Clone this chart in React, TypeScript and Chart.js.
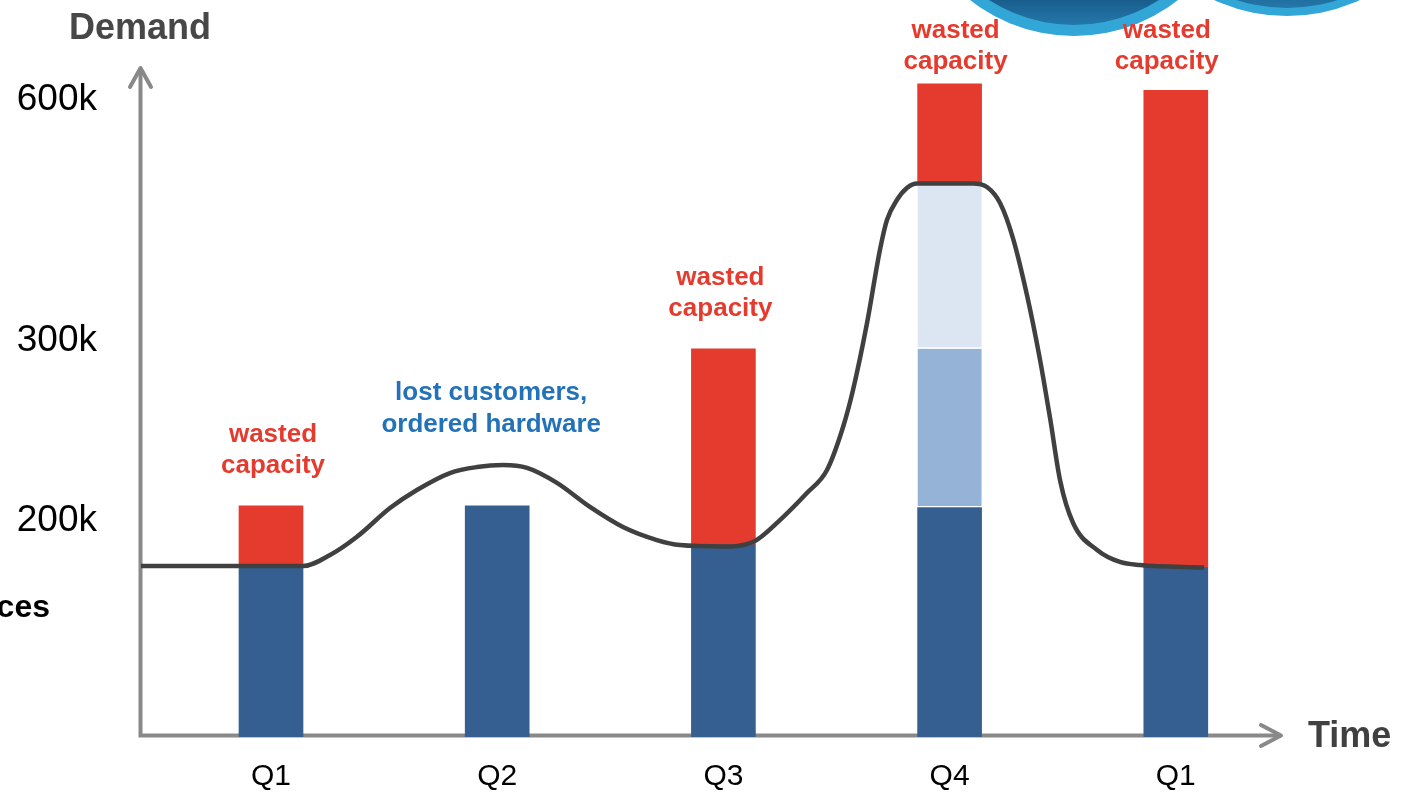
import { useEffect, useRef } from 'react';
import { Chart, registerables, LinearScale } from 'chart.js';

// ---------------- data ----------------
const quarterLabels = ['Q1', 'Q2', 'Q3', 'Q4', 'Q1'];
const quarterPositions = [1, 2, 3, 4, 5];
const servedDemand = [156000, 207000, 176000, 206000, 155000];
const burstTier1 = [null, null, null, 88000, null];
const burstTier2 = [null, null, null, 197000, null];
const provisionedCapacity = [207000, 207000, 294000, 617000, 609000];

const demandX = [
  0.425, 1.141, 1.261, 1.38, 1.526, 1.645, 1.791, 1.911, 2.026, 2.132, 2.264, 2.41,
  2.556, 2.706, 2.808, 2.998, 3.131, 3.25, 3.369, 3.458, 3.529, 3.573, 3.635, 3.692,
  3.723, 3.767, 3.811, 3.856, 4.103, 4.165, 4.223, 4.28, 4.342, 4.4, 4.444, 4.489,
  4.546, 4.652, 4.753, 4.842, 5.125,
];
const demandY = [
  156500, 156500, 166600, 183300, 205800, 215800, 225200, 228500, 229600, 228000, 219700, 206400,
  192200, 180300, 175700, 174400, 178500, 198600, 214100, 226900, 250700, 271200, 318700, 409800,
  447200, 472100, 487100, 492700, 492700, 488300, 468400, 424700, 353600, 287800, 255700, 220800,
  195900, 171200, 160200, 157400, 155100,
];

const yTickValues = [200000, 300000, 600000];
const yTickLabels = ['200k', '300k', '600k'];

// segmented (broken) value axis definition
const yBreakValues = [0, 200000, 300000, 600000, 638000];
const yBreakFractions = [0, 0.3261, 0.5955, 0.9545, 1];

const wastedCapacity = provisionedCapacity.map((cap, i) => {
  const used = servedDemand[i] + (burstTier1[i] || 0) + (burstTier2[i] || 0);
  const w = cap - used;
  return w > 0 ? w : null;
});

// ---------------- styling ----------------
const FONT = '"Liberation Sans", Arial, Helvetica, sans-serif';
const COLOR_SERVED = '#365F91';
const COLOR_BURST1 = '#95B3D7';
const COLOR_BURST2 = '#DCE6F2';
const COLOR_WASTE = '#E53B2F';
const COLOR_LINE = '#404040';
const COLOR_AXIS = '#898989';
const COLOR_LOST = '#2372B9';

const annotations = [
  { index: 0, dx: 2, dy: [-64, -33], lines: ['wasted', 'capacity'], color: COLOR_WASTE },
  { index: 1, dx: -6, dy: [-106, -74], lines: ['lost customers,', 'ordered hardware'], color: COLOR_LOST },
  { index: 2, dx: -3, dy: [-64, -33], lines: ['wasted', 'capacity'], color: COLOR_WASTE },
  { index: 3, dx: 6, dy: [-46, -15], lines: ['wasted', 'capacity'], color: COLOR_WASTE },
  { index: 4, dx: -9, dy: [-52, -21], lines: ['wasted', 'capacity'], color: COLOR_WASTE },
];

const decorRings = [
  { cx: 1074, cy: -132, r: 168, band: 11 },
  { cx: 1287, cy: -158, r: 174, band: 8 },
];

function valueToFraction(v: number): number {
  const n = yBreakValues.length;
  if (v <= yBreakValues[0]) return yBreakFractions[0] + (v - yBreakValues[0]) * (yBreakFractions[1] - yBreakFractions[0]) / (yBreakValues[1] - yBreakValues[0]);
  for (let i = 1; i < n; i++) {
    if (v <= yBreakValues[i] || i === n - 1) {
      const t = (v - yBreakValues[i - 1]) / (yBreakValues[i] - yBreakValues[i - 1]);
      return yBreakFractions[i - 1] + t * (yBreakFractions[i] - yBreakFractions[i - 1]);
    }
  }
  return 1;
}
function fractionToValue(f: number): number {
  const n = yBreakFractions.length;
  for (let i = 1; i < n; i++) {
    if (f <= yBreakFractions[i] || i === n - 1) {
      const t = (f - yBreakFractions[i - 1]) / (yBreakFractions[i] - yBreakFractions[i - 1]);
      return yBreakValues[i - 1] + t * (yBreakValues[i] - yBreakValues[i - 1]);
    }
  }
  return yBreakValues[n - 1];
}

class SegmentedScale extends LinearScale {
  static id = 'segmented';
  static defaults = LinearScale.defaults;
  getPixelForValue(value: number) {
    if (value === null || value === undefined || isNaN(value)) return NaN;
    return this.getPixelForDecimal(valueToFraction(value));
  }
  getValueForPixel(pixel: number) {
    return fractionToValue(this.getDecimalForPixel(pixel));
  }
}

Chart.register(...registerables, SegmentedScale);

const clearScalePadding = (axis: any) => {
  axis.paddingTop = 0;
  axis.paddingBottom = 0;
  axis.paddingLeft = 0;
  axis.paddingRight = 0;
};

const decorPlugin = {
  id: 'decor',
  beforeDatasetsDraw(chart: any) {
    const { ctx, chartArea } = chart;
    const ax = chartArea.left + 2.5;
    const ay = chartArea.bottom - 1.5;
    ctx.save();
    ctx.strokeStyle = COLOR_AXIS;
    ctx.lineWidth = 4;
    ctx.lineJoin = 'miter';
    ctx.beginPath();
    ctx.moveTo(ax, chartArea.top + 2);
    ctx.lineTo(ax, ay);
    ctx.lineTo(chartArea.right - 2, ay);
    ctx.stroke();
    ctx.lineJoin = 'round';
    ctx.lineCap = 'round';
    ctx.beginPath();
    ctx.moveTo(ax - 10.5, chartArea.top + 20);
    ctx.lineTo(ax, chartArea.top + 1);
    ctx.lineTo(ax + 10.5, chartArea.top + 20);
    ctx.stroke();
    ctx.beginPath();
    ctx.moveTo(chartArea.right - 21, ay - 10.5);
    ctx.lineTo(chartArea.right - 1, ay);
    ctx.lineTo(chartArea.right - 21, ay + 10.5);
    ctx.stroke();
    ctx.restore();
  },
  afterDraw(chart: any) {
    const { ctx } = chart;
    const xs = chart.scales.x;
    const ys = chart.scales.y;
    ctx.save();
    // decorative rings at the top
    for (const ring of decorRings) {
      ctx.beginPath();
      ctx.arc(ring.cx, ring.cy, ring.r, 0, Math.PI * 2);
      ctx.fillStyle = '#33A6D8';
      ctx.fill();
      const g = ctx.createLinearGradient(0, ring.cy + ring.r - ring.band - 70, 0, ring.cy + ring.r - ring.band);
      g.addColorStop(0, '#0E4573');
      g.addColorStop(0.6, '#175A8A');
      g.addColorStop(1, '#2478AA');
      ctx.beginPath();
      ctx.arc(ring.cx, ring.cy, ring.r - ring.band, 0, Math.PI * 2);
      ctx.fillStyle = g;
      ctx.fill();
    }
    // axis titles
    ctx.fillStyle = '#474747';
    ctx.font = `bold 36px ${FONT}`;
    ctx.textBaseline = 'alphabetic';
    ctx.textAlign = 'center';
    ctx.fillText('Demand', 140, 39);
    ctx.textAlign = 'left';
    ctx.fillStyle = '#404040';
    ctx.fillText('Time', 1308, 747);
    // clipped label at the left edge
    ctx.fillStyle = '#000000';
    ctx.font = `bold 32px ${FONT}`;
    ctx.textAlign = 'right';
    ctx.fillText('ces', 50, 617);
    // annotations
    ctx.font = `bold 26px ${FONT}`;
    ctx.textAlign = 'center';
    for (const a of annotations) {
      const x = xs.getPixelForValue(quarterPositions[a.index]) + a.dx;
      const top = ys.getPixelForValue(provisionedCapacity[a.index]);
      ctx.fillStyle = a.color;
      a.lines.forEach((line, li) => ctx.fillText(line, x, top + a.dy[li]));
    }
    ctx.restore();
  },
};

export default function App() {
  const canvasRef = useRef<HTMLCanvasElement | null>(null);

  useEffect(() => {
    document.body.style.margin = '0';
    const canvas = canvasRef.current;
    if (!canvas) return;
    const toPoints = (arr: (number | null)[]) => quarterPositions.map((x, i) => ({ x, y: arr[i] }));
    const barCommon = { stack: 'capacity', barThickness: 64, order: 1, borderWidth: 0, borderSkipped: false as const };
    const chart = new Chart(canvas, {
      type: 'bar',
      data: {
        datasets: [
          { ...barCommon, label: 'Served demand', data: toPoints(servedDemand), backgroundColor: COLOR_SERVED },
          { ...barCommon, label: 'Burst tier 1', data: toPoints(burstTier1), backgroundColor: COLOR_BURST1, borderColor: '#ffffff', borderWidth: { top: 0, left: 0, right: 0, bottom: 2 } },
          { ...barCommon, label: 'Burst tier 2', data: toPoints(burstTier2), backgroundColor: COLOR_BURST2, borderColor: '#ffffff', borderWidth: { top: 0, left: 0, right: 0, bottom: 2 } },
          { ...barCommon, label: 'Wasted capacity', data: toPoints(wastedCapacity), backgroundColor: COLOR_WASTE },
          {
            type: 'line',
            label: 'Demand',
            data: demandX.map((x, i) => ({ x, y: demandY[i] })),
            borderColor: COLOR_LINE,
            borderWidth: 4.5,
            pointRadius: 0,
            fill: false,
            cubicInterpolationMode: 'monotone',
            order: 0,
          } as any,
        ],
      },
      options: {
        animation: false,
        responsive: true,
        maintainAspectRatio: false,
        events: [],
        layout: { padding: { top: 67, right: 136, left: 0, bottom: 0 } },
        plugins: { legend: { display: false }, tooltip: { enabled: false } },
        scales: {
          x: {
            type: 'linear',
            min: 0.412,
            max: 5.4695,
            offset: false,
            grid: { display: false, drawTicks: false },
            border: { display: false },
            afterBuildTicks: (axis: any) => { axis.ticks = quarterPositions.map((value) => ({ value })); },
            afterFit: (axis: any) => { axis.height = 57; clearScalePadding(axis); },
            ticks: {
              autoSkip: false,
              maxRotation: 0,
              padding: 22,
              color: '#000000',
              font: { family: FONT, size: 30 },
              callback: (_v: any, i: number) => quarterLabels[i],
            },
          },
          y: {
            type: 'segmented' as any,
            stacked: true,
            min: 0,
            max: 638000,
            grid: { display: false, drawTicks: false },
            border: { display: false },
            afterBuildTicks: (axis: any) => { axis.ticks = yTickValues.map((value) => ({ value })); },
            afterFit: (axis: any) => { axis.width = 138; clearScalePadding(axis); },
            ticks: {
              autoSkip: false,
              padding: 41,
              labelOffset: 2.5,
              color: '#000000',
              font: { family: FONT, size: 37 },
              callback: (_v: any, i: number) => yTickLabels[i],
            },
          },
        },
      } as any,
      plugins: [decorPlugin],
    });
    return () => chart.destroy();
  }, []);

  return (
    <div style={{ position: 'absolute', left: 0, top: 0, width: 1418, height: 794, background: '#ffffff' }}>
      <canvas ref={canvasRef} />
    </div>
  );
}
